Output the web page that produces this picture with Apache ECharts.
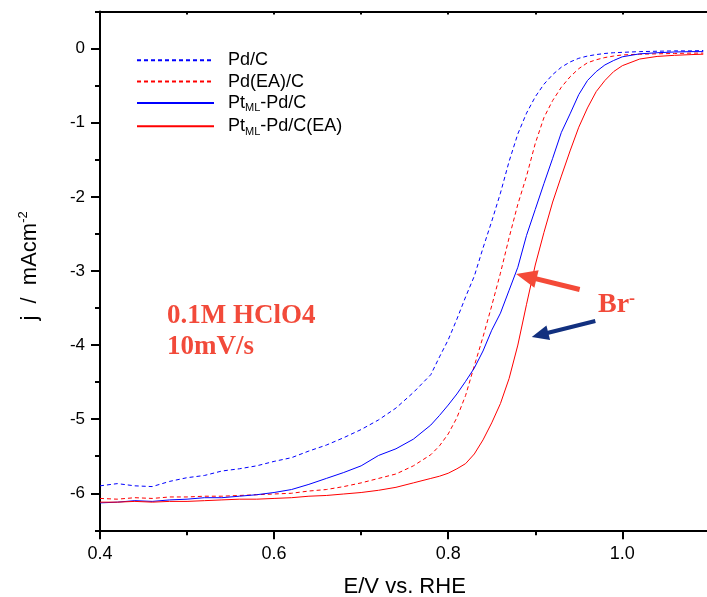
<!DOCTYPE html>
<html><head><meta charset="utf-8">
<script src="https://cdn.jsdelivr.net/npm/echarts@6/dist/echarts.min.js"></script>
<style>html,body{margin:0;padding:0;background:#fff}#c{width:707px;height:597px}</style>
</head><body><div id="c"></div>
<script>
// ---- data ----
const E = [0.40,0.42,0.44,0.46,0.48,0.50,0.52,0.54,0.56,0.58,
           0.60,0.62,0.64,0.66,0.68,0.70,0.72,0.74,0.76,0.78,
           0.79,0.80,0.81,0.82,0.83,0.84,0.85,0.86,0.87,0.88,
           0.89,0.90,0.91,0.92,0.93,0.94,0.95,0.96,0.97,0.98,
           0.99,1.00,1.02,1.04,1.06,1.08,1.093];
const pdC = [-5.90,-5.87,-5.90,-5.91,-5.84,-5.79,-5.76,-5.70,-5.67,-5.63,
             -5.57,-5.52,-5.43,-5.35,-5.25,-5.14,-5.01,-4.85,-4.64,-4.40,
             -4.16,-3.93,-3.65,-3.35,-3.07,-2.69,-2.33,-1.95,-1.52,-1.15,
             -0.87,-0.65,-0.48,-0.35,-0.25,-0.18,-0.13,-0.10,-0.08,-0.065,
             -0.055,-0.05,-0.04,-0.035,-0.03,-0.03,-0.025];
const pdEA = [-6.07,-6.08,-6.06,-6.07,-6.05,-6.05,-6.04,-6.04,-6.03,-6.02,
              -6.01,-6.00,-5.97,-5.95,-5.91,-5.86,-5.80,-5.74,-5.63,-5.48,
              -5.36,-5.20,-4.98,-4.68,-4.28,-3.89,-3.47,-3.03,-2.55,-2.10,
              -1.72,-1.28,-0.93,-0.70,-0.52,-0.38,-0.27,-0.19,-0.15,-0.12,
              -0.10,-0.085,-0.075,-0.07,-0.065,-0.06,-0.06];
const ptPd = [-6.13,-6.12,-6.10,-6.11,-6.09,-6.08,-6.06,-6.06,-6.04,-6.02,
              -5.99,-5.95,-5.88,-5.80,-5.72,-5.63,-5.49,-5.40,-5.27,-5.08,
              -4.95,-4.81,-4.66,-4.49,-4.31,-4.08,-3.80,-3.57,-3.26,-2.95,
              -2.52,-2.17,-1.82,-1.48,-1.13,-0.88,-0.62,-0.43,-0.31,-0.22,
              -0.16,-0.11,-0.07,-0.055,-0.045,-0.04,-0.04];
const ptPdEA = [-6.12,-6.12,-6.11,-6.12,-6.11,-6.11,-6.10,-6.09,-6.08,-6.08,
                -6.07,-6.06,-6.04,-6.03,-6.01,-5.99,-5.96,-5.92,-5.86,-5.80,
                -5.77,-5.73,-5.67,-5.60,-5.47,-5.28,-5.05,-4.79,-4.45,-4.00,
                -3.45,-2.92,-2.48,-2.07,-1.72,-1.38,-1.06,-0.80,-0.58,-0.43,
                -0.31,-0.23,-0.14,-0.105,-0.09,-0.08,-0.075];
const seriesNames = ['Pd/C','Pd(EA)/C','PtML-Pd/C','PtML-Pd/C(EA)'];
const xTickLabels = ['0.4','0.6','0.8','1.0'];
const yTickLabels = ['-6','-5','-4','-3','-2','-1','0'];
// annotation arrows [tipE, tipJ, tailE, tailJ]
const redArrow = [0.878,-3.04,0.951,-3.25];
const blueArrow = [0.896,-3.89,0.969,-3.675];

// ---- chart ----
const F = '"Liberation Sans", Arial, sans-serif';
const SERIF = '"Liberation Serif", "Times New Roman", serif';
const pair = ys => E.map((e,i)=>[e, ys[i]]);
const blk = {color:'#000', width:2};
const chart = echarts.init(document.getElementById('c'));
const mk = (name, ys, color, dashed) => ({
  name, type:'line', data: pair(ys), xAxisIndex:0, yAxisIndex:0,
  symbol:'none', showSymbol:false, smooth:false,
  lineStyle:{color, width:1, type: dashed ? [4,3] : 'solid'},
  itemStyle:{color}
});
chart.setOption({
  animation:false,
  backgroundColor:'#fff',
  grid:[
    {left:100, top:11.6, width:696.4, height:518.7, outerBoundsMode:'none', containLabel:false},
    {left:100, top:48.7, width:100, height:444.6, outerBoundsMode:'none', containLabel:false}
  ],
  xAxis:[
    {gridIndex:0, type:'value', position:'bottom', min:0.4, max:1.2, interval:0.2,
     axisLine:{show:true, onZero:false, lineStyle:blk},
     axisTick:{show:true, length:9, lineStyle:blk},
     minorTick:{show:true, splitNumber:2, length:5, lineStyle:blk},
     splitLine:{show:false}, minorSplitLine:{show:false},
     axisLabel:{fontFamily:F, fontSize:18, color:'#000', margin:15, showMaxLabel:false,
       formatter: v => { const s = v.toFixed(1); return xTickLabels.includes(s) ? s : ''; }},
     name:'E/V vs. RHE', nameLocation:'middle', nameGap:46,
     nameTextStyle:{fontFamily:F, fontSize:22, color:'#000', padding:[0,87,0,0]}},
    {gridIndex:0, type:'value', position:'top', min:0.4, max:1.2, interval:0.2,
     axisLine:{show:true, onZero:false, lineStyle:blk},
     axisTick:{show:true, inside:true, length:3, lineStyle:blk},
     minorTick:{show:true, splitNumber:2, length:3, lineStyle:blk},
     splitLine:{show:false}, axisLabel:{show:false}},
    {gridIndex:1, type:'value', min:0, max:1, show:false}
  ],
  yAxis:[
    {gridIndex:0, type:'value', min:-6.5, max:0.5, interval:0.5,
     axisLine:{show:true, onZero:false, lineStyle:blk},
     axisTick:{show:true, length:5, lineStyle:blk},
     splitLine:{show:false}, axisLabel:{show:false},
     name:'{a|j  /  mAcm}{p|-2}', nameLocation:'middle', nameGap:57, nameRotate:90,
     nameTextStyle:{fontFamily:F, fontSize:22, color:'#000', padding:[0,0,0,10],
       rich:{a:{fontFamily:F, fontSize:22, lineHeight:26, color:'#000'},
             p:{fontFamily:F, fontSize:13, lineHeight:2, verticalAlign:'top', color:'#000'}}}},
    {gridIndex:1, type:'value', min:-6, max:0, interval:1,
     axisLine:{show:false, onZero:false},
     axisTick:{show:true, length:9, lineStyle:blk},
     splitLine:{show:false},
     axisLabel:{fontFamily:F, fontSize:17, color:'#000', margin:15,
       formatter: v => { const s = String(Math.round(v)); return yTickLabels.includes(s) ? s : ''; }}}
  ],
  legend:{
    orient:'vertical', left:136, top:51.3, padding:0, itemGap:3.3,
    itemWidth:77, itemHeight:14, data:seriesNames,
    itemStyle:{opacity:0},
    formatter: n => n.startsWith('PtML') ? '{a|Pt}{s|ML}{a|' + n.slice(4) + '}' : '{a|' + n + '}',
    textStyle:{fontFamily:F, fontSize:18, color:'#000', padding:[0,0,0,9],
      rich:{a:{fontFamily:F, fontSize:18, lineHeight:22, color:'#000'},
            s:{fontFamily:F, fontSize:11, lineHeight:1, verticalAlign:'bottom', color:'#000'}}}
  },
  series:[
    mk(seriesNames[0], pdC, '#0000ff', true),
    mk(seriesNames[1], pdEA, '#ff0000', true),
    mk(seriesNames[2], ptPd, '#0000ff', false),
    mk(seriesNames[3], ptPdEA, '#ff0000', false)
  ]
});

function arrowPoly(a, w, L, H){
  const tip = chart.convertToPixel({gridIndex:0}, [a[0], a[1]]);
  const tail = chart.convertToPixel({gridIndex:0}, [a[2], a[3]]);
  const dx = tip[0]-tail[0], dy = tip[1]-tail[1];
  const len = Math.hypot(dx, dy);
  const ux = dx/len, uy = dy/len, nx = -uy, ny = ux;
  const bx = tip[0]-ux*L, by = tip[1]-uy*L;
  return [
    [tail[0]+nx*w/2, tail[1]+ny*w/2],
    [bx+nx*w/2, by+ny*w/2],
    [bx+nx*H, by+ny*H],
    [tip[0], tip[1]],
    [bx-nx*H, by-ny*H],
    [bx-nx*w/2, by-ny*w/2],
    [tail[0]-nx*w/2, tail[1]-ny*w/2]
  ];
}
const annoColor = '#f24a3a';
chart.setOption({
  graphic:[
    {type:'text', z:100, style:{text:'0.1M HClO4', x:167, y:316, fill:annoColor,
      font:'bold 27px ' + SERIF, verticalAlign:'middle', align:'left'}},
    {type:'text', z:100, style:{text:'10mV/s', x:167, y:347, fill:annoColor,
      font:'bold 27px ' + SERIF, verticalAlign:'middle', align:'left'}},
    {type:'text', z:100, style:{text:'{b|Br}{p|-}', x:598, y:305, verticalAlign:'middle', align:'left',
      rich:{b:{fontFamily:SERIF, fontWeight:'bold', fontSize:28, lineHeight:30, fill:annoColor, color:annoColor},
            p:{fontFamily:SERIF, fontWeight:'bold', fontSize:18, lineHeight:9, verticalAlign:'top', fill:annoColor, color:annoColor}}}},
    {type:'polygon', z:100, shape:{points:arrowPoly(redArrow, 5, 21, 9)}, style:{fill:'#f44a38'}},
    {type:'polygon', z:100, shape:{points:arrowPoly(blueArrow, 4, 17, 7.5)}, style:{fill:'#12307f'}}
  ]
});
</script></body></html>
